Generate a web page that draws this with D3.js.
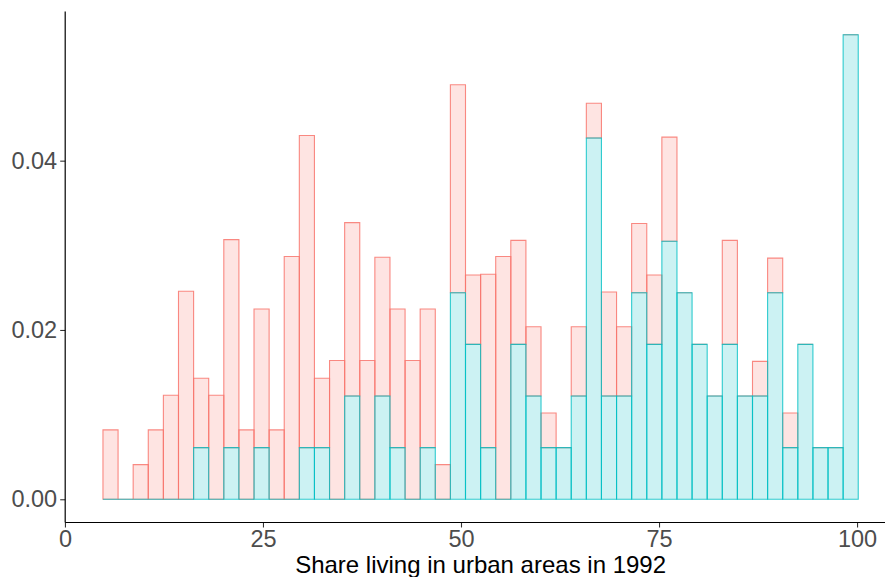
<!DOCTYPE html>
<html>
<head>
<meta charset="utf-8">
<script src="https://cdn.jsdelivr.net/npm/d3@7/dist/d3.min.js"></script>
<style>
  html, body { margin: 0; padding: 0; background: #fff; }
  svg { display: block; font-family: "Liberation Sans", Arial, sans-serif; }
</style>
</head>
<body>
<svg id="chart" width="885" height="577"></svg>
<script>
// Histogram bins: 50 equal-width bins over the urban share (percent)
const binStart = 4.8;
const binWidth = 1.907;
const binCount = 50;

// Counts per bin for the two groups (stacked)
const countsGroupA = [
  2, 0, 1, 2, 3, 6, 2, 3, 6, 2,
  4, 2, 7, 9, 2, 4, 5, 4, 4, 4,
  4, 4, 1, 6, 2, 5, 7, 3, 2, 1,
  0, 2, 1, 3, 2, 2, 2, 3, 0, 0,
  0, 3, 0, 1, 1, 1, 0, 0, 0, 0
];
const countsGroupB = [
  0, 0, 0, 0, 0, 0, 1, 0, 1, 0,
  1, 0, 0, 1, 1, 0, 2, 0, 2, 1,
  0, 1, 0, 4, 3, 1, 0, 3, 2, 1,
  1, 2, 7, 2, 2, 4, 3, 5, 4, 3,
  2, 3, 2, 2, 4, 1, 3, 1, 1, 9
];

const xTicks = [0, 25, 50, 75, 100];
const yTicks = [0, 0.02, 0.04];
const xTitle = "Share living in urban areas in 1992";

const colorA = "#F8766D";
const colorB = "#00BFC4";

const svg = d3.select("#chart");

// Density per bin (each group normalised on its own)
const totalA = d3.sum(countsGroupA);
const totalB = d3.sum(countsGroupB);
const bins = d3.range(binCount).map(i => {
  const dB = countsGroupB[i] / (totalB * binWidth);
  const dA = countsGroupA[i] / (totalA * binWidth);
  return { x0: binStart + i * binWidth, x1: binStart + (i + 1) * binWidth, dA, dB };
});

const xLo = binStart, xHi = binStart + binCount * binWidth;
const xPad = (xHi - xLo) * 0.05;
const yMax = d3.max(bins, d => d.dA + d.dB);
const yPad = yMax * 0.05;

const panel = { left: 65.2, right: 896, top: 11.5, bottom: 522.5 };

const x = d3.scaleLinear().domain([xLo - xPad, xHi + xPad]).range([panel.left, panel.right]);
const y = d3.scaleLinear().domain([-yPad, yMax + yPad]).range([panel.bottom, panel.top]);

// Bars as closed paths so empty bins still show their outline on the baseline
function barPath(x0, x1, lo, hi) {
  const p = d3.path();
  p.moveTo(x(x0), y(lo));
  p.lineTo(x(x1), y(lo));
  p.lineTo(x(x1), y(hi));
  p.lineTo(x(x0), y(hi));
  p.closePath();
  return p.toString();
}

const gBars = svg.append("g");

// Group A stacked on top of group B
gBars.selectAll("path.a").data(bins).join("path")
  .attr("class", "a")
  .attr("d", d => barPath(d.x0, d.x1, d.dB, d.dB + d.dA))
  .attr("fill", colorA).attr("fill-opacity", 0.2)
  .attr("stroke", colorA).attr("stroke-opacity", 0.85).attr("stroke-width", 1.1);

gBars.selectAll("path.b").data(bins).join("path")
  .attr("class", "b")
  .attr("d", d => barPath(d.x0, d.x1, 0, d.dB))
  .attr("fill", colorB).attr("fill-opacity", 0.2)
  .attr("stroke", colorB).attr("stroke-opacity", 0.8).attr("stroke-width", 1.1);

// Axes
const xAxis = d3.axisBottom(x).tickValues(xTicks).tickFormat(d3.format("d")).tickSize(5).tickPadding(3);
const yAxis = d3.axisLeft(y).tickValues(yTicks).tickFormat(d3.format(".2f")).tickSize(5).tickPadding(3);

const gx = svg.append("g").attr("transform", `translate(0,${panel.bottom})`).call(xAxis);
const gy = svg.append("g").attr("transform", `translate(${panel.left},0)`).call(yAxis);

[gx, gy].forEach(g => {
  g.select(".domain").remove();
  g.selectAll(".tick line").attr("stroke", "#333").attr("stroke-width", 1.1);
  g.selectAll(".tick text").attr("fill", "#4D4D4D").style("font-size", "23.5px")
    .style("font-family", "'Liberation Sans', Arial, sans-serif");
});

svg.append("line")
  .attr("x1", panel.left).attr("x2", panel.right)
  .attr("y1", panel.bottom).attr("y2", panel.bottom)
  .attr("stroke", "#000").attr("stroke-width", 1.2);
svg.append("line")
  .attr("x1", panel.left).attr("x2", panel.left)
  .attr("y1", panel.top).attr("y2", panel.bottom)
  .attr("stroke", "#000").attr("stroke-width", 1.2);

svg.append("text")
  .attr("x", (panel.left + panel.right) / 2)
  .attr("y", 573)
  .attr("text-anchor", "middle")
  .attr("fill", "#000")
  .style("font-size", "24px")
  .text(xTitle);
</script>
</body>
</html>
